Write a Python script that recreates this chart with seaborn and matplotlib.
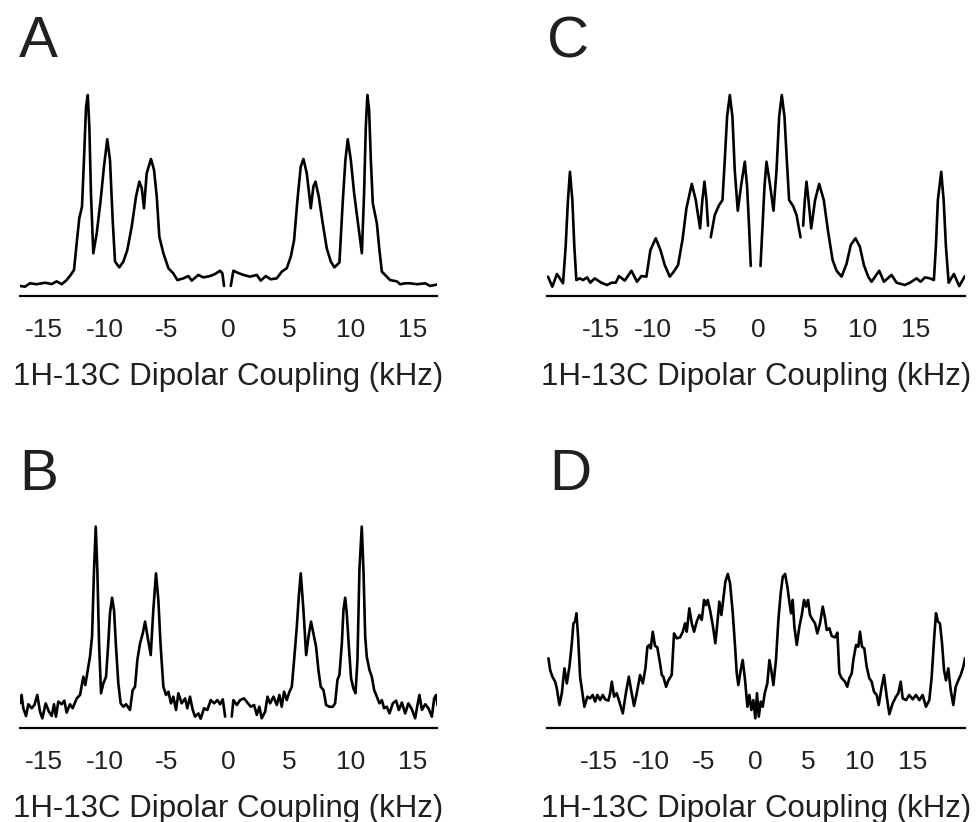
import matplotlib
matplotlib.use("Agg")
import matplotlib.pyplot as plt
import numpy as np
import pandas as pd
import seaborn as sns


# spectra: (kHz, intensity), None marks a gap in the trace
spec_a = [(-16.95, -0.5), (-16.54, -0.9), (-16.14, 0.9), (-15.59, 0.4), (-14.91, 1.2), (-14.37, 0.5),
          (-13.96, 1.9), (-13.55, 0.4), (-13.15, 2.6), (-12.82, 5.3), (-12.55, 7.9), (-12.28, 25.4),
          (-12.12, 35.1), (-11.90, 41.2), (-11.74, 65.8), (-11.57, 93.8), (-11.43, 100.0), (-11.30, 83.3),
          (-11.17, 48.3), (-10.98, 16.7), (-10.70, 27.2), (-10.38, 44.7), (-10.11, 62.3), (-9.84, 76.7),
          (-9.62, 65.8), (-9.40, 34.2), (-9.21, 12.3), (-8.86, 9.3), (-8.53, 12.3), (-8.21, 18.4),
          (-7.85, 30.7), (-7.50, 46.5), (-7.23, 54.4), (-7.03, 50.9), (-6.85, 40.4), (-6.63, 58.8),
          (-6.28, 66.3), (-6.03, 60.5), (-5.81, 46.5), (-5.60, 25.4), (-5.27, 16.7), (-4.86, 8.8),
          (-4.46, 6.1), (-4.13, 2.6), (-3.64, 3.5), (-3.23, 4.7), (-2.96, 2.3), (-2.42, 5.3),
          (-2.01, 4.0), (-1.47, 4.7), (-1.06, 5.8), (-0.65, 7.5), (-0.46, 6.1), (-0.33, -0.5),
          None,
          (0.22, -0.5), (0.43, 7.5), (0.76, 6.5), (1.25, 5.3), (1.79, 4.4), (2.34, 5.3), (2.66, 2.3),
          (3.07, 4.7), (3.48, 3.0), (3.97, 3.5), (4.37, 7.0), (4.78, 8.8), (5.11, 14.9), (5.38, 23.7),
          (5.65, 44.7), (5.92, 62.3), (6.14, 66.3), (6.41, 58.8), (6.74, 40.4), (6.95, 51.8),
          (7.12, 54.4), (7.39, 46.5), (7.71, 32.5), (8.04, 19.3), (8.37, 12.3), (8.66, 9.3),
          (9.07, 11.8), (9.35, 44.7), (9.56, 65.8), (9.75, 76.7), (10.00, 65.8), (10.27, 48.2),
          (10.62, 30.7), (10.90, 16.7), (11.08, 48.3), (11.22, 83.3), (11.35, 100.0), (11.49, 92.1),
          (11.63, 65.8), (11.79, 43.0), (12.12, 32.5), (12.33, 18.4), (12.53, 7.0), (12.88, 4.7),
          (13.20, 2.6), (13.75, 1.9), (14.02, 0.4), (14.43, 0.9), (14.83, 0.9), (15.38, 0.4),
          (16.06, 0.9), (16.46, -0.5), (17.01, 0.2)]

spec_b = [(-16.95, 7.2), (-16.82, 11.6), (-16.68, 4.6), (-16.46, 0.5), (-16.27, 6.7), (-16.00, 4.6),
          (-15.78, 6.3), (-15.54, 11.6), (-15.32, 2.8), (-15.13, -0.7), (-14.86, 7.2), (-14.59, 2.8),
          (-14.37, 0.5), (-14.18, 6.7), (-14.02, 0.2), (-13.83, 8.1), (-13.56, 6.7), (-13.34, 8.6),
          (-13.15, 2.3), (-12.88, 6.7), (-12.66, 4.6), (-12.33, 9.8), (-12.06, 11.6), (-11.79, 21.2),
          (-11.63, 16.8), (-11.43, 24.7), (-11.25, 31.7), (-11.08, 42.3), (-10.92, 77.4), (-10.78, 100.2),
          (-10.65, 77.4), (-10.51, 38.8), (-10.35, 12.5), (-10.16, 17.7), (-9.94, 21.2), (-9.76, 38.8),
          (-9.62, 54.6), (-9.45, 62.8), (-9.29, 56.3), (-9.13, 37.0), (-8.94, 17.7), (-8.75, 7.2),
          (-8.53, 5.4), (-8.31, 6.7), (-7.99, 3.7), (-7.77, 14.2), (-7.58, 15.9), (-7.39, 30.0),
          (-7.17, 38.8), (-6.95, 44.0), (-6.76, 50.2), (-6.58, 43.1), (-6.30, 32.6), (-6.09, 56.3),
          (-5.87, 75.6), (-5.68, 61.6), (-5.49, 37.0), (-5.27, 15.9), (-5.05, 11.6), (-4.86, 13.3),
          (-4.65, 7.2), (-4.46, 10.7), (-4.24, 3.7), (-4.05, 12.5), (-3.78, 7.2), (-3.50, 9.8),
          (-3.32, 4.6), (-3.10, 10.7), (-2.88, 3.7), (-2.69, 0.2), (-2.42, 1.9), (-2.23, -0.9),
          (-1.96, 4.6), (-1.69, 3.7), (-1.41, 8.9), (-1.14, 7.2), (-0.87, 8.9), (-0.65, 6.7),
          (-0.43, 9.3), (-0.24, 0.2),
          None,
          (0.30, 0.2), (0.43, 8.9), (0.71, 6.3), (0.98, 8.9), (1.30, 9.8), (1.57, 7.6), (1.85, 5.4),
          (2.12, 6.3), (2.34, 1.1), (2.55, 5.4), (2.74, -0.7), (3.02, 2.8), (3.21, 10.7), (3.42, 7.2),
          (3.70, 10.7), (3.97, 6.3), (4.18, 11.6), (4.37, 5.4), (4.56, 13.3), (4.78, 8.9), (5.00, 13.3),
          (5.19, 15.9), (5.38, 30.0), (5.60, 47.5), (5.76, 63.3), (5.92, 75.6), (6.14, 56.3),
          (6.36, 32.6), (6.57, 43.1), (6.76, 50.2), (6.95, 44.0), (7.17, 37.0), (7.36, 24.7),
          (7.55, 15.9), (7.77, 14.2), (7.99, 6.3), (8.26, 5.4), (8.53, 5.4), (8.72, 7.2), (8.91, 19.5),
          (9.07, 22.1), (9.27, 38.8), (9.40, 56.3), (9.54, 62.8), (9.67, 54.6), (9.84, 37.0),
          (10.02, 20.4), (10.21, 15.0), (10.38, 12.5), (10.54, 30.0), (10.70, 77.4), (10.89, 100.2),
          (11.03, 77.4), (11.17, 42.3), (11.30, 31.7), (11.52, 24.7), (11.71, 21.2), (11.90, 14.2),
          (12.12, 10.7), (12.33, 7.2), (12.53, 8.9), (12.71, 4.6), (12.93, 5.4), (13.15, 1.9),
          (13.42, 7.2), (13.69, 8.6), (13.91, 3.7), (14.16, 7.6), (14.43, 1.9), (14.69, 7.2),
          (14.97, 4.1), (15.24, -0.7), (15.43, 6.3), (15.59, 11.6), (15.79, 3.7), (16.06, 6.7),
          (16.32, 4.6), (16.60, 0.2), (16.79, 9.8), (16.95, 11.6), (17.06, 6.3)]

spec_c = [(-20.06, 4.4), (-19.64, -0.9), (-19.20, 5.8), (-18.62, 0.9), (-18.37, 20.2), (-18.15, 44.7),
          (-17.96, 59.6), (-17.73, 44.7), (-17.54, 20.2), (-17.35, 2.6), (-17.03, 3.5), (-16.71, 2.6),
          (-16.33, 4.0), (-16.01, 1.2), (-15.60, 3.5), (-14.96, 1.2), (-14.42, 0.0), (-14.00, 1.2),
          (-13.59, 1.2), (-13.28, 4.7), (-12.73, 2.3), (-12.09, 7.5), (-11.56, 1.7), (-11.14, 4.7),
          (-10.66, 4.4), (-10.28, 18.4), (-9.77, 24.6), (-9.32, 18.4), (-8.91, 10.5), (-8.43, 4.4),
          (-8.05, 7.0), (-7.64, 10.5), (-7.22, 23.7), (-6.84, 40.4), (-6.33, 53.2), (-5.95, 44.7),
          (-5.54, 29.8), (-5.32, 44.7), (-5.12, 54.4), (-4.93, 44.7), (-4.78, 31.2),
          None,
          (-4.52, 25.1), (-4.14, 36.8), (-3.72, 42.1), (-3.40, 44.7), (-3.18, 65.8), (-2.96, 88.6),
          (-2.70, 100.0), (-2.45, 88.6), (-2.23, 60.5), (-1.94, 39.1), (-1.59, 53.5), (-1.27, 64.9),
          (-1.05, 51.8), (-0.86, 30.7), (-0.70, 10.0),
          None,
          (0.23, 10.0), (0.42, 30.7), (0.61, 51.8), (0.80, 64.9), (1.12, 53.5), (1.47, 39.1),
          (1.76, 60.5), (2.01, 88.6), (2.26, 100.0), (2.52, 88.6), (2.74, 65.8), (2.96, 44.7),
          (3.34, 41.6), (3.67, 36.8), (4.05, 25.1),
          None,
          (4.30, 31.2), (4.46, 44.7), (4.62, 54.4), (4.81, 44.7), (5.07, 29.8), (5.44, 44.7),
          (5.83, 53.2), (6.27, 44.7), (6.66, 28.9), (7.11, 13.2), (7.49, 7.5), (7.97, 4.4),
          (8.44, 11.1), (8.85, 21.1), (9.30, 24.6), (9.71, 20.2), (10.10, 10.5), (10.51, 4.4),
          (10.83, 1.7), (11.56, 7.5), (12.01, 1.7), (12.74, 5.3), (13.22, 1.2), (14.01, 0.0),
          (14.49, 1.2), (15.13, 3.5), (15.51, 1.7), (15.92, 4.0), (16.40, 3.5), (16.78, 2.6),
          (16.97, 20.2), (17.16, 44.7), (17.48, 59.6), (17.71, 44.7), (17.93, 20.2), (18.19, 1.2),
          (18.69, 5.8), (19.20, -0.6), (19.74, 4.7)]

spec_d = [(-19.86, 30.9), (-19.70, 24.7), (-19.48, 21.2), (-19.22, 18.6), (-19.06, 15.0), (-18.81, 6.3),
          (-18.58, 12.5), (-18.33, 25.6), (-18.10, 17.7), (-17.85, 26.5), (-17.62, 38.8), (-17.47, 49.3),
          (-17.31, 50.2), (-17.18, 54.6), (-17.02, 42.3), (-16.83, 21.2), (-16.61, 12.5), (-16.42, 5.4),
          (-16.13, 10.7), (-15.87, 9.8), (-15.62, 11.6), (-15.39, 8.1), (-15.17, 11.6), (-14.91, 8.9),
          (-14.66, 11.6), (-14.43, 9.3), (-14.12, 8.6), (-13.95, 12.5), (-13.79, 18.6), (-13.57, 10.7),
          (-13.32, 12.5), (-13.07, 8.1), (-12.74, 1.9), (-12.42, 13.3), (-12.16, 21.2), (-11.94, 14.2),
          (-11.66, 5.8), (-11.40, 12.5), (-11.08, 22.1), (-10.82, 17.7), (-10.57, 25.6), (-10.38, 37.0),
          (-10.19, 37.9), (-10.06, 36.1), (-9.87, 44.9), (-9.65, 37.4), (-9.43, 36.7), (-9.17, 28.2),
          (-9.00, 22.1), (-8.85, 21.2), (-8.59, 15.9), (-8.37, 19.3), (-8.05, 22.1), (-7.83, 44.0),
          (-7.57, 41.4), (-7.25, 41.9), (-6.99, 44.9), (-6.77, 49.3), (-6.61, 44.9), (-6.36, 57.2),
          (-6.13, 49.3), (-5.91, 44.9), (-5.65, 50.2), (-5.40, 53.7), (-5.17, 51.1), (-4.95, 61.6),
          (-4.76, 58.9), (-4.60, 61.6), (-4.38, 56.3), (-4.12, 48.4), (-3.87, 38.8), (-3.68, 49.3),
          (-3.49, 60.7), (-3.29, 53.7), (-3.10, 62.5), (-2.91, 71.2), (-2.68, 75.3), (-2.46, 70.4),
          (-2.20, 54.6), (-1.98, 37.0), (-1.82, 23.0), (-1.67, 16.8), (-1.44, 24.7), (-1.25, 30.0),
          (-1.02, 19.3), (-0.80, 5.4), (-0.61, 11.6), (-0.42, 3.7), (-0.23, 8.9), (-0.04, -0.7),
          (0.12, 12.5), (0.29, 0.2), (0.48, 8.1), (0.67, 5.4), (0.86, 12.5), (1.11, 17.7), (1.31, 30.0),
          (1.49, 24.7), (1.69, 16.8), (1.94, 30.0), (2.17, 51.1), (2.39, 65.1), (2.59, 73.8),
          (2.81, 75.3), (3.03, 68.6), (3.22, 60.7), (3.38, 54.6), (3.54, 61.6), (3.70, 47.5),
          (3.93, 37.9), (4.18, 47.5), (4.41, 53.7), (4.63, 61.6), (4.82, 58.1), (5.01, 61.6),
          (5.20, 53.7), (5.46, 51.1), (5.68, 49.3), (5.90, 44.0), (6.16, 49.3), (6.42, 58.1),
          (6.64, 52.0), (6.80, 45.8), (7.05, 46.7), (7.28, 42.6), (7.60, 41.9), (7.82, 44.4),
          (8.01, 23.0), (8.24, 20.4), (8.55, 18.6), (8.77, 15.9), (8.97, 20.4), (9.20, 23.0),
          (9.35, 30.0), (9.61, 37.9), (9.83, 37.0), (9.99, 44.9), (10.18, 37.0), (10.40, 36.1),
          (10.63, 26.5), (10.88, 20.4), (11.11, 18.6), (11.33, 13.3), (11.59, 11.6), (11.78, 6.3),
          (12.07, 15.9), (12.29, 22.1), (12.55, 10.7), (12.80, 1.5), (13.12, 7.2), (13.44, 10.7),
          (13.66, 12.5), (13.89, 18.6), (14.08, 9.8), (14.40, 8.9), (14.71, 11.6), (15.04, 9.3),
          (15.35, 11.6), (15.67, 8.9), (15.99, 11.6), (16.31, 5.4), (16.63, 8.9), (16.86, 21.2),
          (17.08, 40.4), (17.27, 54.6), (17.46, 50.2), (17.65, 49.3), (17.85, 38.8), (18.04, 24.7),
          (18.23, 19.3), (18.45, 25.6), (18.68, 14.2), (18.93, 6.3), (19.16, 15.9), (19.41, 19.3),
          (19.64, 22.1), (19.89, 26.5), (20.05, 30.9)]

panel_labels = ["A", "B", "C", "D"]
tick_values = [-15, -10, -5, 0, 5, 10, 15]
x_label = "1H-13C Dipolar Coupling (kHz)"


def to_frame(points):
    # split the trace into segments at the None markers
    rows = []
    seg = 0
    for p in points:
        if p is None:
            seg += 1
            continue
        rows.append({"khz": p[0], "intensity": p[1], "seg": seg})
    return pd.DataFrame(rows)


def draw(ax, points, xlim):
    df = to_frame(points)
    sns.lineplot(data=df, x="khz", y="intensity", units="seg", estimator=None,
                 sort=False, color="black", linewidth=1.9, ax=ax)
    for line in ax.get_lines():
        line.set_solid_joinstyle("round")
    ax.set_xlim(*xlim)
    ax.set_ylim(-5.79, 107.9)
    ax.set_xticks(tick_values)
    ax.set_xticklabels([str(t) for t in tick_values])
    ax.set_yticks([])
    for s in ["top", "right", "left"]:
        ax.spines[s].set_visible(False)
    ax.spines["bottom"].set_linewidth(1.6)
    ax.spines["bottom"].set_color("black")
    ax.tick_params(axis="x", direction="out", length=6.5, width=1.6, color="black",
                   labelsize=19, labelcolor="#231f20", pad=9.5)
    ax.set_xlabel(x_label, fontsize=22.5, color="#231f20", labelpad=14)
    ax.set_ylabel("")
    ax.patch.set_alpha(0)


def main():
    sns.set_style("white")
    plt.rcParams["font.family"] = ["Liberation Sans", "DejaVu Sans"]

    fig = plt.figure(figsize=(9.79, 8.22), dpi=100)
    W, H = 979, 822

    def add_axes(x0, x1, y_top, y_bottom):
        return fig.add_axes([x0 / W, 1 - y_bottom / H, (x1 - x0) / W, (y_bottom - y_top) / H])

    ax_a = add_axes(20, 437, 80, 296)
    ax_c = add_axes(547, 965, 80, 296)
    ax_b = add_axes(20, 437, 512, 728)
    ax_d = add_axes(547, 965, 512, 728)

    draw(ax_a, spec_a, (-16.95, 17.02))
    draw(ax_b, spec_b, (-16.95, 17.02))
    draw(ax_c, spec_c, (-20.15, 19.75))
    draw(ax_d, spec_d, (-20.0, 20.05))

    # panel letters
    for lab, (x, y) in zip(panel_labels, [(19, 57), (19, 490), (547, 57), (549, 490)]):
        fig.text(x / W, 1 - y / H, lab, fontsize=42, color="#231f20", va="baseline", ha="left")

    fig.savefig("out.png", dpi=100)


if __name__ == "__main__":
    main()
